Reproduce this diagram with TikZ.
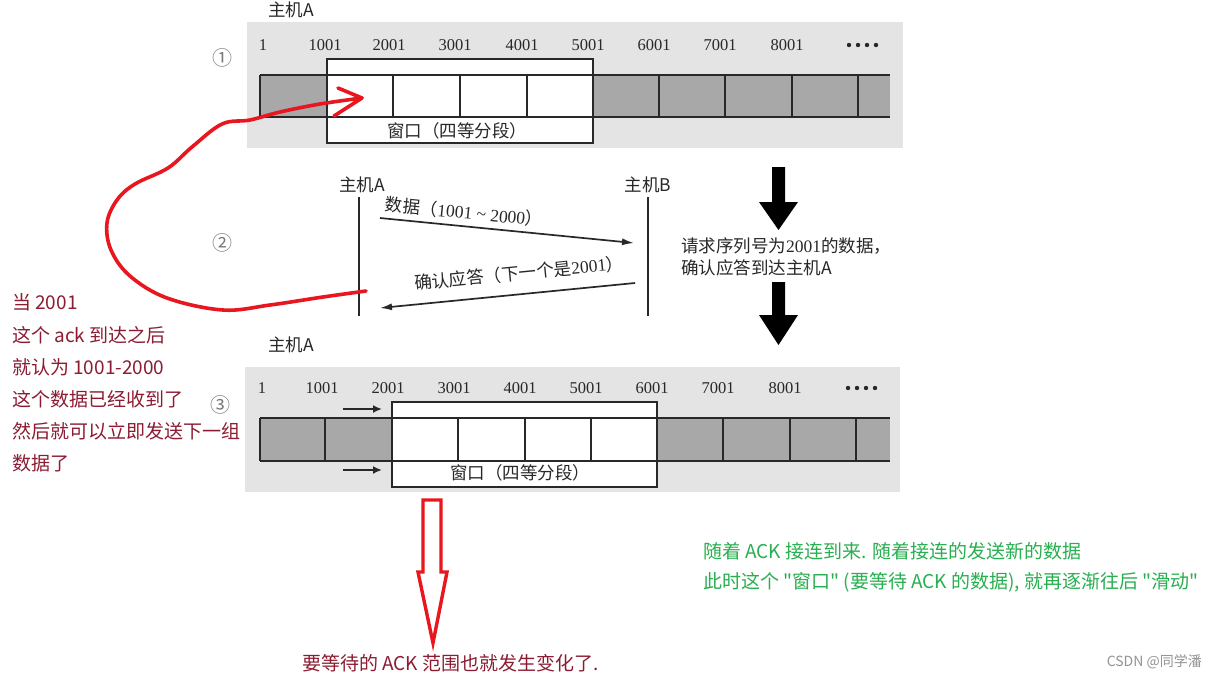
\documentclass[tikz,border=0pt]{standalone}
\usepackage{fontspec}
\setmainfont{Liberation Serif}
\newfontfamily\cjk{Noto Sans CJK SC}
\usetikzlibrary{arrows.meta}
\definecolor{bggray}{RGB}{228,228,228}
\definecolor{cellgray}{RGB}{168,168,168}
\definecolor{ink}{RGB}{40,40,40}
\definecolor{handred}{RGB}{232,22,30}
\definecolor{darkred}{RGB}{140,28,50}
\definecolor{notegreen}{RGB}{40,175,80}
\definecolor{circgray}{RGB}{120,120,120}
\begin{document}
\begin{tikzpicture}[x=1pt,y=-1pt,
  num/.style={font=\fontsize{16.5}{16.5}\selectfont, text=ink, inner sep=0pt},
  host/.style={font=\cjk\fontsize{17.5}{18}\selectfont, text=ink, inner sep=0pt},
  lbl/.style={font=\cjk\fontsize{17.5}{18}\selectfont, text=ink, inner sep=0pt},
  circ/.style={font=\cjk\fontsize{20}{20}\selectfont, text=circgray, inner sep=0pt},
  cellline/.style={draw=ink, line width=1.3pt},
  msg/.style={draw=ink, line width=1.7pt, -{Latex[length=12pt,width=7pt]}},
  life/.style={draw=ink, line width=2pt},
  smallarrow/.style={draw=ink, line width=2.6pt, -{Latex[length=9pt,width=8pt]}},
  bigarrow/.style={fill=black},
  handline/.style={draw=handred, line width=3.6pt, line cap=round, line join=round},
  rednote/.style={font=\cjk\fontsize{19}{19}\selectfont, text=darkred, inner sep=0pt, anchor=west},
  greennote/.style={font=\cjk\fontsize{19}{19}\selectfont, text=notegreen, inner sep=0pt, anchor=west}
]
\useasboundingbox (0,0) rectangle (1217,678);
\fill[white] (0,0) rectangle (1217,678);

%% ---------- strip 1 ----------
\fill[bggray] (247,22) rectangle (903,148);
\node[host, anchor=west] (hA1) at (268,10) {主机A};
\fill[cellgray] (260,75) rectangle (890,117);
\fill[white] (327,59) rectangle (593,143);
\draw[cellline] (327,59) rectangle (593,143);
\draw[cellline] (260,75) -- (890,75) (260,117) -- (890,117);
\foreach \x in {260,327,393,460,527,593,659,725,792,858}
  \draw[cellline] (\x,75) -- (\x,117);
\foreach \x/\t [count=\i] in {263/1,325/1001,389/2001,455/3001,522/4001,588/5001,654/6001,720/7001,787/8001}
  \node[num] (ta\i) at (\x,45) {\t};
\foreach \x in {849,858,867,876} \fill[ink] (\x,45) circle (2.2);
\node[lbl] (win1) at (457,131) {窗口（四等分段）};
\node[circ] (c1) at (222,58) {①};

%% ---------- middle ----------
\node[circ] (c2) at (222,243) {②};
\node[host] (hA2) at (362,185) {主机A};
\node[host] (hB2) at (648,185) {主机B};
\coordinate (At) at (359,197);
\coordinate (Ab) at (359,316);
\coordinate (Bt) at (648,197);
\coordinate (Bb) at (648,316);
\draw[life] (At) -- (Ab);
\draw[life] (Bt) -- (Bb);
\coordinate (d1s) at (380,218);
\coordinate (d1e) at (634,243);
\coordinate (d2s) at (635,283);
\coordinate (d2e) at (380,308);
\draw[msg] (d1s) -- (d1e);
\draw[msg] (d2s) -- (d2e);
\node[lbl, rotate=-5.6] (m1) at (464,212) {数据（\fontspec{Liberation Serif}1001 \textasciitilde{} 2000\cjk）};
\node[lbl, rotate=5.6] (m2) at (519,273) {确认应答（下一个是\fontspec{Liberation Serif}2001\cjk）};

% big black arrows
\fill[bigarrow] (772,167) -- (785,167) -- (785,202) -- (798,202) -- (778.5,230) -- (759,202) -- (772,202) -- cycle;
\fill[bigarrow] (772,282) -- (785,282) -- (785,315) -- (798,315) -- (778.5,345) -- (759,315) -- (772,315) -- cycle;
\node[lbl, anchor=west] (req1) at (681,246) {请求序列号为\fontspec{Liberation Serif}2001\cjk 的数据，};
\node[lbl, anchor=west] (req2) at (681,268) {确认应答到达主机A};

%% ---------- strip 3 ----------
\fill[bggray] (245,367) rectangle (900,492);
\node[host, anchor=west] (hA3) at (268,345) {主机A};
\fill[cellgray] (260,418) rectangle (890,461);
\fill[white] (392,402) rectangle (657,487);
\draw[cellline] (392,402) rectangle (657,487);
\draw[cellline] (260,418) -- (890,418) (260,461) -- (890,461);
\foreach \x in {260,325,392,458,525,591,657,723,790,856}
  \draw[cellline] (\x,418) -- (\x,461);
\foreach \x/\t [count=\i] in {262/1,322/1001,388/2001,454/3001,520/4001,586/5001,652/6001,718/7001,785/8001}
  \node[num] (tb\i) at (\x,388) {\t};
\foreach \x in {848,857,866,875} \fill[ink] (\x,388) circle (2.2);
\node[lbl] (win3) at (520,473) {窗口（四等分段）};
\node[circ] (c3) at (220,405) {③};
\coordinate (s1a) at (343,409);
\coordinate (s1b) at (382,409);
\coordinate (s2a) at (343,470);
\coordinate (s2b) at (382,470);
\draw[smallarrow] (s1a) -- (s1b);
\draw[smallarrow] (s2a) -- (s2b);

%% ---------- red hand-drawn curve ----------
\coordinate (rs) at (366,291);
\coordinate (re) at (362,98);
\draw[handline] plot[smooth, tension=0.6] coordinates {(rs) (323,297) (270,305) (223,310) (167,298) (130,276) (111,250) (107,223) (117,200) (135,184) (168,168) (192,147) (222,124) (250,120) (280,112) (320,104) (re)};
\coordinate (rb1) at (338,88);
\coordinate (rb2) at (334,116);
\draw[handline] (rb1) -- (re) -- (rb2);

%% ---------- red hollow arrow ----------
\draw[draw=handred, line width=3.4pt, line join=miter] (423,500) -- (441,500) -- (441,572) -- (447,572) -- (433,643) -- (418,572) -- (423,572) -- cycle;

%% ---------- notes ----------
\node[rednote] (r1) at (12,302) {当 2001};
\node[rednote] (r2) at (12,335) {这个 ack 到达之后};
\node[rednote] (r3) at (12,367) {就认为 1001-2000};
\node[rednote] (r4) at (12,399) {这个数据已经收到了};
\node[rednote] (r5) at (12,431) {然后就可以立即发送下一组};
\node[rednote] (r6) at (12,463) {数据了};

\node[rednote] (bt) at (302,663) {要等待的 ACK 范围也就发生变化了.};

\node[greennote] (g1) at (703,551) {随着 ACK 接连到来. 随着接连的发送新的数据};
\node[greennote] (g2) at (703,582) {此时这个 "窗口" (要等待 ACK 的数据), 就再逐渐往后 "滑动"};

\node[font=\cjk\fontsize{14}{14}\selectfont, text=circgray!80, inner sep=0pt, anchor=east] (wm) at (1202,662) {CSDN @同学潘};
\end{tikzpicture}
\end{document}
